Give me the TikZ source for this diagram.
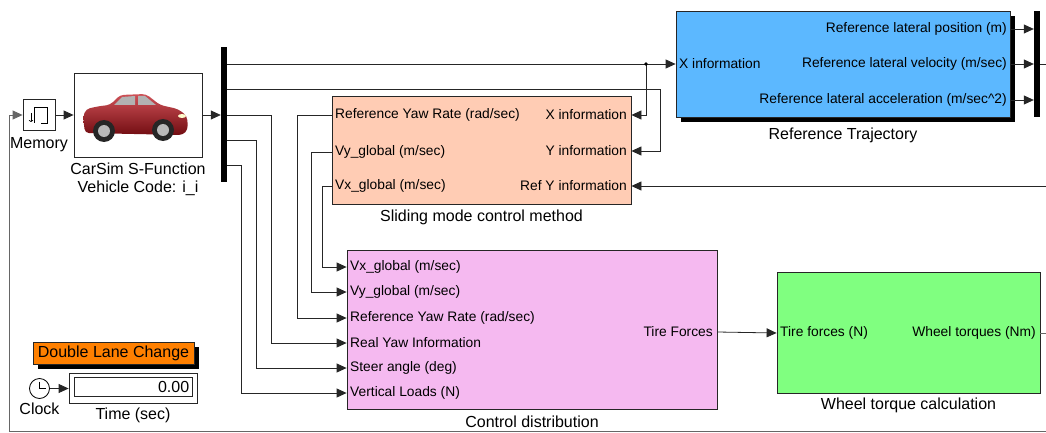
\documentclass[tikz,border=0pt]{standalone}
\usepackage{fontspec}
\setmainfont{Liberation Sans}
\usetikzlibrary{positioning, calc, arrows.meta, shadows}
\definecolor{rtblue}{RGB}{92,184,255}
\definecolor{smpeach}{RGB}{255,204,180}
\definecolor{cdpink}{RGB}{245,185,240}
\definecolor{wtgreen}{RGB}{128,255,128}
\definecolor{dlcorange}{RGB}{255,128,0}
\definecolor{carred}{RGB}{190,22,30}

\begin{document}
\begin{tikzpicture}[x=1pt, y=1pt,
        blk/.style={rectangle, draw=black!85, line width=0.8pt, inner sep=0pt},
        shd/.style={drop shadow={shadow xshift=5pt, shadow yshift=-5pt, fill=black, opacity=1}},
        bar/.style={rectangle, fill=black, minimum width=6pt, inner sep=0pt},
        portl/.style={anchor=west, inner sep=0pt, font=\fontsize{13.8}{15}\selectfont},
        portr/.style={anchor=east, inner sep=0pt, font=\fontsize{13.8}{15}\selectfont},
        blkcap/.style={font=\fontsize{16}{18}\selectfont, align=center, inner sep=0pt},
        wire/.style={draw=black!85, line width=0.8pt},
        arrow/.style={wire, -{Triangle[length=10pt, width=9pt]}},
    ]
    \useasboundingbox (0,0) rectangle (1046,-433);
    \clip (0,0) rectangle (1046,-433);

    % ===== Vehicle: memory, CarSim block, demux =====
    \node[blk, minimum width=32pt, minimum height=31pt] (MEM) at (39,-115) {};
    \draw[line width=0.7pt, -{To[length=2pt]}] ($(MEM.center)+(-8,2)$) -- ($(MEM.center)+(-8,-7)$);
    \draw[line width=0.7pt] ($(MEM.center)+(-5,-8)$) -- ($(MEM.center)+(-5,8)$)
        -- ($(MEM.center)+(8,8)$) -- ($(MEM.center)+(8,-8)$) -- ($(MEM.center)+(2,-8)$);
    \node[blkcap, below=6pt of MEM] (MEMcap) {Memory};

    \node[blk, fill=white, minimum width=128pt, minimum height=84pt] (CAR) at (138,-115) {};
    \begin{scope}[shift={(CAR.center)}]
        \shade[top color=carred!75!white, bottom color=carred!60!black, rounded corners=4pt]
            (-53,-18) -- (-55,-2) -- (-52,6) -- (-38,9) -- (-28,10) -- (-18,20) -- (8,21)
            -- (22,10) -- (40,6) -- (49,-1) -- (50,-14) -- (45,-20) -- cycle;
        \fill[gray!60] (-24,10) -- (-16,18) -- (-3,19) -- (-3,10) -- cycle;
        \fill[gray!60] (0,10) -- (0,19) -- (7,19) -- (18,10) -- cycle;
        \fill[black!85] (-34,-16) circle (11);
        \fill[gray!55] (-34,-16) circle (6);
        \fill[black!85] (25,-15) circle (11);
        \fill[gray!55] (25,-15) circle (6);
        \fill[yellow!20!white] (44,-1) ellipse (4 and 2);
    \end{scope}
    \node[blkcap, below=5pt of CAR] (CARcap) {CarSim S-Function\\Vehicle Code: i\_i};

    \node[bar, minimum height=135pt] (DMX) at (224,-114.5) {};

    % ===== Reference Trajectory =====
    \node[blk, shd, fill=rtblue, minimum width=334pt, minimum height=106pt] (RT) at (843,-64) {};
    \node[portl] (rtX) at (679,-64) {X information};
    \node[portr] (rtPos) at (1007,-29) {Reference lateral position (m)};
    \node[portr] (rtVel) at (1007,-64) {Reference lateral velocity (m/sec)};
    \node[portr] (rtAcc) at (1007,-100) {Reference lateral acceleration (m/sec\^{}2)};
    \node[blkcap, below=10pt of RT] (RTcap) {Reference Trajectory};
    \node[bar, minimum height=106pt] (MUX) at (1037,-64) {};

    % ===== Sliding mode control =====
    \node[blk, fill=smpeach, minimum width=299pt, minimum height=108pt] (SM) at (481.5,-150) {};
    \node[portl] (smRyr) at (335,-115) {Reference Yaw Rate (rad/sec)};
    \node[portl] (smVy) at (335,-152) {Vy\_global (m/sec)};
    \node[portl] (smVx) at (335,-186) {Vx\_global (m/sec)};
    \node[portr] (smX) at (627,-115) {X information};
    \node[portr] (smY) at (627,-151) {Y information};
    \node[portr] (smRefY) at (627,-186) {Ref Y information};
    \node[blkcap, below=5pt of SM] (SMcap) {Sliding mode control method};

    % ===== Control distribution =====
    \node[blk, fill=cdpink, minimum width=370pt, minimum height=159pt] (CD) at (532,-329.5) {};
    \node[portl] (cdVx) at (350,-267) {Vx\_global (m/sec)};
    \node[portl] (cdVy) at (350,-292) {Vy\_global (m/sec)};
    \node[portl] (cdRyr) at (350,-318) {Reference Yaw Rate (rad/sec)};
    \node[portl] (cdYaw) at (350,-343) {Real Yaw Information};
    \node[portl] (cdSteer) at (350,-368) {Steer angle (deg)};
    \node[portl] (cdLoad) at (350,-393) {Vertical Loads (N)};
    \node[portr] (cdTF) at (713,-332) {Tire Forces};
    \node[blkcap, below=6pt of CD] (CDcap) {Control distribution};

    % ===== Wheel torque calculation =====
    \node[blk, fill=wtgreen, minimum width=263pt, minimum height=121pt] (WT) at (908.5,-332.5) {};
    \node[portl] (wtTF) at (780,-333) {Tire forces (N)};
    \node[portr] (wtTQ) at (1036,-333) {Wheel torques (Nm)};
    \node[blkcap, below=4pt of WT] (WTcap) {Wheel torque calculation};

    % ===== Clock and time display =====
    \node[blk, shd, fill=dlcorange, minimum width=161pt, minimum height=22pt,
          font=\fontsize{16}{18}\selectfont] (DLC) at (113.5,-353) {Double Lane Change};
    \node[circle, draw=black, line width=0.8pt, fill=white, minimum size=20pt, inner sep=0pt] (CLK) at (39.5,-388.5) {};
    \draw[line width=0.8pt] ($(CLK.center)+(0,7)$) -- (CLK.center) -- ($(CLK.center)+(6,0)$);
    \node[blkcap, below=4pt of CLK] (CLKcap) {Clock};
    \node[blk, fill=white, minimum width=128pt, minimum height=30pt] (TIME) at (133,-388) {};
    \node[blk, fill=white, minimum width=118pt, minimum height=19pt] (TIMEin) at (133,-386.5) {};
    \node[portr, font=\fontsize{16}{18}\selectfont] (TIMEval) at ($(TIMEin.east)+(-3,0)$) {0.00};
    \node[blkcap, below=4pt of TIME] (TIMEcap) {Time (sec)};

    % ===== Wires =====
    \coordinate (jX) at (646,-64);
    \coordinate (kY) at (660,-89);
    \coordinate (t1) at (271,-115);
    \coordinate (t2) at (256,-140);
    \coordinate (t3) at (241,-165);
    \coordinate (s1) at (297,-115);
    \coordinate (s2) at (311,-152);
    \coordinate (s3) at (322,-186);
    \coordinate (refYin) at (1052,-186);
    \coordinate (muxOut) at (1052,-64);
    \coordinate (fbR) at (1052,-333);
    \coordinate (fbB) at (9,-431.5);

    \draw[arrow] (MEM) -- (CAR);
    \draw[arrow] (CAR.east) -- (CAR.east -| DMX.west);

    % demux to reference trajectory and sliding mode
    \draw[wire] (DMX.east |- jX) -- (jX);
    \draw[arrow] (jX) -- (RT.west |- rtX);
    \draw[arrow] (jX) |- (SM.east |- smX);
    \fill (jX) circle (1.8pt);
    \draw[arrow] (DMX.east |- kY) -- (kY) |- (SM.east |- smY);
    \draw[arrow] (refYin) -- (SM.east |- smRefY);

    % demux to control distribution
    \draw[arrow] (DMX.east |- t1) -- (t1) |- (CD.west |- cdYaw);
    \draw[arrow] (DMX.east |- t2) -- (t2) |- (CD.west |- cdSteer);
    \draw[arrow] (DMX.east |- t3) -- (t3) |- (CD.west |- cdLoad);

    % sliding mode outputs
    \draw[arrow] (SM.west |- s1) -- (s1) |- (CD.west |- cdRyr);
    \draw[arrow] (SM.west |- s2) -- (s2) |- (CD.west |- cdVy);
    \draw[arrow] (SM.west |- s3) -- (s3) |- (CD.west |- cdVx);

    % reference trajectory to mux
    \draw[arrow] (RT.east |- rtPos) -- (MUX.west |- rtPos);
    \draw[arrow] (RT.east |- rtVel) -- (MUX.west |- rtVel);
    \draw[arrow] (RT.east |- rtAcc) -- (MUX.west |- rtAcc);
    \draw[wire] (MUX.east) -- (muxOut);

    \draw[arrow] (CD.east |- cdTF) -- (WT.west |- wtTF);
    \draw[arrow, draw=black!60] (WT.east |- wtTQ) -- (fbR) |- (fbB) |- (MEM.west);
    \draw[arrow] (CLK.east) -- (TIME.west |- CLK.east);

\end{tikzpicture}
\end{document}
